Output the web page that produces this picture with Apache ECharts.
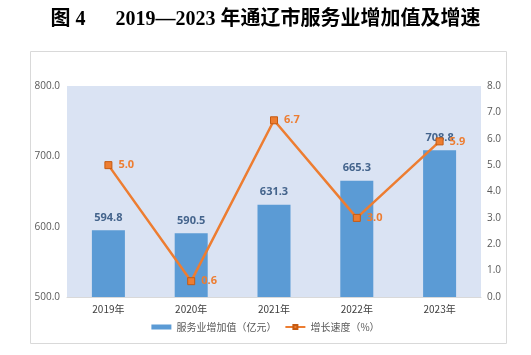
<!DOCTYPE html>
<html><head><meta charset="utf-8">
<script src="https://cdn.jsdelivr.net/npm/echarts@6/dist/echarts.min.js"></script>
<style>html,body{margin:0;padding:0;background:#fff}#c{width:531px;height:355px}</style>
</head><body><div id="c"></div>
<script>
const categories = ['2019年','2020年','2021年','2022年','2023年'];
const valueAdded = [594.8, 590.5, 631.3, 665.3, 708.8];
const growthRate = [5.0, 0.6, 6.7, 3.0, 5.9];
const seriesNames = ['服务业增加值（亿元）','增长速度（%）'];
const titleText = '图 4      2019—2023 年通辽市服务业增加值及增速';

const chart = echarts.init(document.getElementById('c'));
chart.setOption({
  animation:false,
  title:{text:titleText,left:'center',top:5,
    textStyle:{fontFamily:'"Liberation Serif","Noto Sans CJK SC",serif',fontWeight:'bold',fontSize:20,color:'#000'}},
  graphic:[{type:'rect',shape:{x:30.5,y:51.5,width:476,height:292},style:{fill:'none',stroke:'#d9d9d9',lineWidth:1},z:-1}],
  legend:{bottom:18,left:'center',itemGap:8,itemWidth:20,itemHeight:5,
    textStyle:{fontFamily:'"Noto Sans CJK SC",sans-serif',fontSize:10,color:'#595959'},
    data:[{name:seriesNames[0],icon:'rect'},{name:seriesNames[1]}]},
  grid:{left:67,right:50,top:86,bottom:58,show:true,backgroundColor:'#dae3f3',borderWidth:0},
  xAxis:{type:'category',data:categories,
    axisLine:{lineStyle:{color:'#d9d9d9'}},axisTick:{show:false},
    axisLabel:{color:'#404040',fontSize:10,margin:7,fontFamily:'"Noto Sans CJK SC",sans-serif'}},
  yAxis:[
    {type:'value',min:500,max:800,interval:100,splitLine:{show:false},
     axisLabel:{formatter:v=>v.toFixed(1),color:'#595959',fontSize:10,margin:7,fontFamily:'"Open Sans",sans-serif'}},
    {type:'value',min:0,max:8,interval:1,splitLine:{show:false},
     axisLabel:{formatter:v=>v.toFixed(1),color:'#595959',fontSize:10,margin:6,fontFamily:'"Open Sans",sans-serif'}}
  ],
  series:[
    {name:seriesNames[0],type:'bar',data:valueAdded,barWidth:33,
     itemStyle:{color:'#5b9bd5'},
     label:{show:true,position:'top',distance:7,formatter:p=>p.value.toFixed(1),color:'#44648c',fontWeight:'bold',fontSize:11,fontFamily:'"Open Sans",sans-serif'}},
    {name:seriesNames[1],type:'line',yAxisIndex:1,data:growthRate,
     symbol:'rect',symbolSize:7,
     lineStyle:{color:'#ed7d31',width:2.5},
     itemStyle:{color:'#ed7d31',borderColor:'#c55a11',borderWidth:1},
     label:{show:true,position:'right',distance:6,formatter:p=>p.value.toFixed(1),color:'#ed7d31',fontWeight:'bold',fontSize:11,fontFamily:'"Open Sans",sans-serif'}}
  ]
});
</script></body></html>
